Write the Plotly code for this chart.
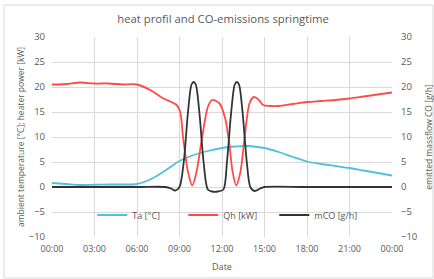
import plotly.graph_objects as go

# hours of day
ta_hours = [0, 1, 2, 3, 4, 5, 6, 7, 8, 9, 10, 11, 12, 13, 13.8, 15, 16, 17, 18, 19, 20, 21, 22, 23, 24]
ta_values = [0.8, 0.6, 0.4, 0.45, 0.5, 0.5, 0.6, 1.6, 3.3, 5.2, 6.4, 7.2, 7.8, 8.1, 8.2, 7.8, 7.0, 6.0, 5.1, 4.6, 4.2, 3.8, 3.3, 2.8, 2.3]

qh_hours = [0, 1, 2, 3, 4, 5, 6, 7, 7.8, 8.8, 9.05, 9.25, 9.6, 9.9, 10.2, 10.6, 11.0, 11.3, 11.8, 12.2, 12.5, 12.75, 13.0, 13.3, 13.6, 13.95, 14.25, 14.6, 14.9, 15.4, 16, 17, 18, 19, 20, 21, 22, 23, 24]
qh_values = [20.5, 20.6, 20.9, 20.7, 20.7, 20.5, 20.5, 19.3, 17.8, 16.4, 15.0, 10.0, 3.0, 0.3, 3.0, 10.0, 16.0, 17.4, 16.8, 14.0, 9.0, 3.0, 0.3, 3.0, 10.0, 16.8, 18.0, 17.4, 16.4, 16.2, 16.2, 16.6, 17.0, 17.2, 17.4, 17.7, 18.1, 18.5, 18.9]

mco_hours = [0, 6, 8.0, 8.4, 8.7, 9.0, 9.3, 9.6, 9.85, 10.0, 10.15, 10.4, 10.7, 11.0, 11.3, 11.7, 12.1, 12.35, 12.65, 12.9, 13.05, 13.2, 13.45, 13.75, 14.0, 14.3, 14.7, 15.0, 18, 24]
mco_values = [0, 0, 0, -0.3, -0.7, 0, 5, 15, 20.5, 21, 20.5, 15, 5, -0.5, -0.9, -0.9, -0.5, 5, 15, 20.5, 21, 20.5, 15, 5, 0, -0.8, -0.3, 0, 0, 0]

tick_hours = [0, 3, 6, 9, 12, 15, 18, 21, 24]
tick_labels = ["00:00", "03:00", "06:00", "09:00", "12:00", "15:00", "18:00", "21:00", "00:00"]
y_ticks = [-10, -5, 0, 5, 10, 15, 20, 25, 30]

grey = "#595959"
font = "Open Sans"

fig = go.Figure()
fig.add_trace(go.Scatter(x=ta_hours, y=ta_values, name="Ta [°C]", mode="lines",
                         line=dict(color="#4FC1DA", width=1.8, shape="spline", smoothing=0.8)))
fig.add_trace(go.Scatter(x=qh_hours, y=qh_values, name="Qh [kW]", mode="lines",
                         line=dict(color="#FF4A4A", width=1.8, shape="spline", smoothing=0.8)))
fig.add_trace(go.Scatter(x=mco_hours, y=mco_values, name="mCO [g/h]", mode="lines", yaxis="y2",
                         line=dict(color="#333333", width=1.8, shape="spline", smoothing=0.8)))

fig.update_layout(
    width=434, height=279,
    margin=dict(l=52, r=42, t=37, b=42, autoexpand=False),
    paper_bgcolor="white", plot_bgcolor="white",
    font=dict(family=font, size=9, color=grey),
    title=dict(text="heat profil and CO-emissions springtime", x=0.514, xanchor="center",
               y=0.932, yanchor="middle", font=dict(size=11.3, color=grey)),
    xaxis=dict(range=[0, 24], tickvals=tick_hours, ticktext=tick_labels, showgrid=True,
               gridcolor="#D9D9D9", gridwidth=1, zeroline=False, showline=False, automargin=False,
               ticklabelstandoff=5,
               title=dict(text="Date", font=dict(size=9, color=grey), standoff=9),
               tickfont=dict(size=9, color=grey)),
    yaxis=dict(range=[-10, 30], tickvals=y_ticks, showgrid=True, gridcolor="#D9D9D9",
               zeroline=False, showline=False, automargin=False, ticklabelstandoff=6,
               title=dict(text="ambient temperature [°C]; heater power [kW]", font=dict(size=8.5, color=grey), standoff=2),
               tickfont=dict(size=9.5, color=grey)),
    yaxis2=dict(range=[-10, 30], tickvals=y_ticks, overlaying="y", side="right", showgrid=False,
                zeroline=False, showline=False, automargin=False, ticklabelstandoff=8,
                title=dict(text="emitted massflow CO [g/h]", font=dict(size=8.5, color=grey), standoff=9),
                tickfont=dict(size=9.5, color=grey)),
    legend=dict(orientation="h", x=0.52, xanchor="center", y=0.11, yanchor="middle",
                bgcolor="rgba(0,0,0,0)", font=dict(size=9, color=grey), itemwidth=30,
                entrywidth=46, entrywidthmode="pixels"),
    showlegend=True,
)

fig.add_shape(type="rect", xref="paper", yref="paper",
              x0=(4 - 52) / 340, x1=(433 - 52) / 340, y0=(237 - 278) / 200, y1=(237 - 5) / 200,
              line=dict(color="#D9D9D9", width=1))

fig.write_html("out.html", config={"displayModeBar": False},
               post_script="document.body.style.margin='0';document.body.style.padding='0';")
